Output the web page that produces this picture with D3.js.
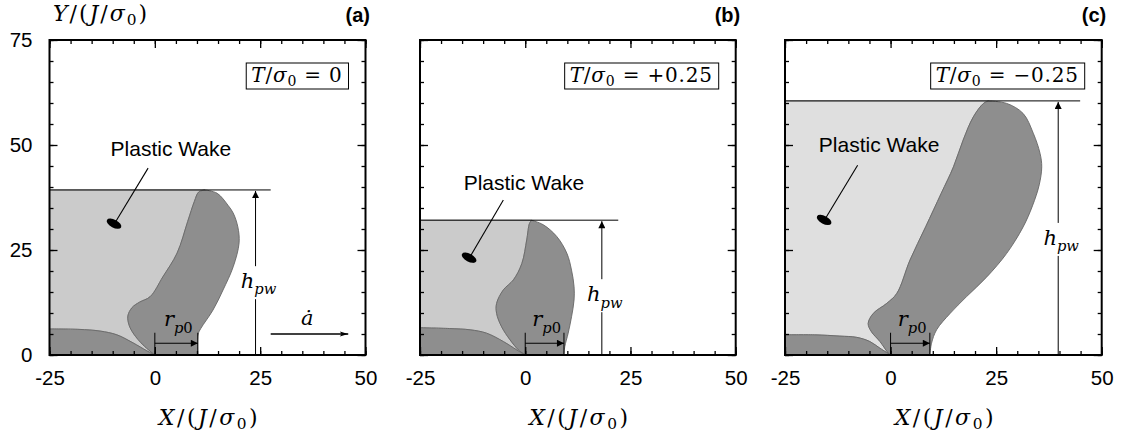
<!DOCTYPE html>
<html><head><meta charset="utf-8">
<script src="https://cdn.jsdelivr.net/npm/d3@7"></script>
<style>body{margin:0;background:#fff}svg{display:block}</style>
</head><body>
<svg id="chart" width="1123" height="435"></svg>
<script>
// ---------------- data ----------------
const panelIds = ["(a)", "(b)", "(c)"];
const stressRatios = ["0", "+0.25", "\u22120.25"];
const xTickValues = [-25, 0, 25, 50];
const yTickValues = [0, 25, 50, 75];
const wakeHeights = [39.3, 32.1, 60.5];
const rp0Values = [10.2, 9.2, 9.3];
const hpwArrowX = [23.9, 18.2, 39.7];
const topLineEndX = [27.5, 22.1, 44.9];

const zoneRightA = [[10.2,0],[10.3,5.0],[10.9,6.3],[13.8,10.7],[16.2,15.5],[18.6,21.0],[20.0,26.7],[19.7,30.5],[18.6,33.8],[17.4,35.6],[14.8,38.5],[11.9,39.3]];
const zoneLeftA  = [[11.9,39.3],[10.4,38.8],[9.4,36.6],[7.8,31.8],[5.3,24.3],[1.9,18.6],[-1.1,13.9],[-3.6,12.6],[-5.4,11.3],[-6.4,9.3],[-6.1,7.1],[-5.0,5.0],[-2.8,2.4],[0,0]];
const stripA     = [[-25,6.2],[-18,6.1],[-13,5.7],[-9,4.8],[-5.2,2.9],[-1.9,1.0],[0,0]];

const zoneRightB = [[9.2,0],[9.4,2.0],[10.2,5.2],[11.0,9.1],[11.6,13.1],[11.6,16.3],[11.0,20.2],[9.9,24.2],[7.5,28.2],[4.3,31.0],[1.5,32.1]];
const zoneLeftB  = [[1.5,32.1],[1.0,31.3],[0.35,27.4],[-0.8,21.8],[-2.8,17.9],[-5.2,15.5],[-6.8,12.3],[-6.8,9.9],[-5.6,6.7],[-3.6,3.6],[-1.6,1.2],[0,0]];
const stripB     = [[-25,6.5],[-18,6.3],[-13.1,6.0],[-9.2,5.2],[-5.2,3.2],[-2.0,1.2],[0,0]];

const zoneRightC = [[9.3,0],[9.7,2.8],[10.9,6.0],[14.1,9.9],[18.0,13.9],[22.8,18.6],[27.5,24.2],[31.4,30.5],[33.6,35.5],[35.2,40.5],[35.8,44.8],[35.4,48.0],[33.8,52.8],[31.4,57.5],[27.5,59.9],[23.2,60.5]];
const zoneLeftC  = [[23.2,60.5],[22.0,59.9],[19.6,56.7],[17.2,51.2],[14.9,44.8],[12.0,38.5],[8.3,30.5],[4.6,22.6],[1.5,14.7],[-0.9,12.3],[-4.1,9.9],[-5.3,7.5],[-4.5,5.5],[-2.5,3.2],[-0.5,0.4],[0,0]];
const stripC     = [[-25,4.8],[-18,4.8],[-12,4.5],[-8,4.2],[-4.9,3.2],[-2.5,1.6],[0,0]];

const zonesRight = [zoneRightA, zoneRightB, zoneRightC];
const zonesLeft = [zoneLeftA, zoneLeftB, zoneLeftC];
const strips = [stripA, stripB, stripC];

// ---------------- layout ----------------
const layout = [
  {left: 49.5, right: 365.5, light: "#cbcbcb",
   wakeText: [3.8, 47.4], wakePtr: [[-1.6, 44.5], [-9.45, 31.5]], hpwLabelY: 17.1, adot: true},
  {left: 420, right: 735.7, light: "#cbcbcb",
   wakeText: [-0.3, 39.3], wakePtr: [[-5.2, 36.9], [-13.1, 23.4]], hpwLabelY: 14.0, adot: false},
  {left: 785, right: 1101.7, light: "#dfdfdf",
   wakeText: [-2.7, 48.4], wakePtr: [[-7.8, 45.2], [-15.5, 32.4]], hpwLabelY: 27.4, adot: false}
];
const plotTop = 40, plotBottom = 355;
const DARK = "#8e8e8e";

const svg = d3.select("#chart");
const defs = svg.append("defs");
defs.append("marker").attr("id", "arr").attr("viewBox", "0 0 10 10")
  .attr("refX", 10).attr("refY", 5).attr("markerWidth", 10).attr("markerHeight", 7)
  .attr("markerUnits", "userSpaceOnUse").attr("orient", "auto")
  .append("path").attr("d", "M0,0 L10,5 L0,10 z").attr("fill", "#000");
defs.append("marker").attr("id", "arr2").attr("viewBox", "0 0 14 10")
  .attr("refX", 14).attr("refY", 5).attr("markerWidth", 14).attr("markerHeight", 6)
  .attr("markerUnits", "userSpaceOnUse").attr("orient", "auto")
  .append("path").attr("d", "M0,1 L14,5 L0,9 L3,5 z").attr("fill", "#000");

const SERIF = "'DejaVu Serif', 'Liberation Serif', serif";
const SANS = "'Liberation Sans', Arial, Helvetica, sans-serif";

function mathText(g, x, y, parts, size, anchor, subShift, spacing) {
  const sh = subShift === undefined ? 0.3 : subShift;
  const t = g.append("text").attr("x", x).attr("y", y)
    .attr("font-family", SERIF).attr("font-size", size)
    .attr("letter-spacing", spacing || 0)
    .attr("text-anchor", anchor || "middle").attr("fill", "#000");
  let shifted = 0;
  parts.forEach(([s, st]) => {
    const ts = t.append("tspan").text(s);
    const isSub = st.startsWith("sub");
    const want = isSub ? size * sh : 0;
    ts.attr("dy", want - shifted); shifted = want;
    if (isSub) ts.attr("font-size", size * 0.7);
    if (st === "i" || st === "subi") ts.attr("font-style", "italic");
  });
  return t;
}

layout.forEach((L, i) => {
  const x = d3.scaleLinear().domain([-25, 50]).range([L.left, L.right]);
  const y = d3.scaleLinear().domain([0, 75]).range([plotBottom, plotTop]);
  const g = svg.append("g");
  const clipId = "clip" + i;
  defs.append("clipPath").attr("id", clipId).append("rect")
    .attr("x", L.left).attr("y", plotTop).attr("width", L.right - L.left).attr("height", plotBottom - plotTop);
  const pg = g.append("g").attr("clip-path", `url(#${clipId})`);

  const curve = d3.line().x(d => x(d[0])).y(d => y(d[1])).curve(d3.curveCatmullRom.alpha(0.5));
  const H = wakeHeights[i];
  const right = zonesRight[i], left = zonesLeft[i], strip = strips[i];

  // light wake region
  const stripRev = strip.slice().reverse();
  const lightPath = `M${x(-25)},${y(H)}L${x(left[0][0])},${y(H)}` +
    curve(left).replace(/^M/, "L") + curve(stripRev).replace(/^M/, "L") +
    `L${x(-25)},${y(0)}Z`;
  pg.append("path").attr("d", lightPath).attr("fill", L.light).attr("stroke", "#8a8a8a").attr("stroke-width", 0.8);

  // dark active zone
  const darkPath = `M${x(0)},${y(0)}L${x(right[0][0])},${y(right[0][1])}` +
    curve(right).replace(/^M/, "L") + curve(left).replace(/^M/, "L") + "Z";
  pg.append("path").attr("d", darkPath).attr("fill", DARK).attr("stroke", "#666").attr("stroke-width", 0.9);

  // lower strip
  const stripPath = `M${x(-25)},${y(0)}` + curve(strip).replace(/^M/, "L") + "Z";
  pg.append("path").attr("d", stripPath).attr("fill", DARK).attr("stroke", "#666").attr("stroke-width", 0.9);

  // top horizontal line
  g.append("line").attr("x1", x(-25)).attr("x2", x(topLineEndX[i])).attr("y1", y(H)).attr("y2", y(H))
    .attr("stroke", "#000").attr("stroke-width", 1);

  // h_pw arrow with gap for label
  const hx = x(hpwArrowX[i]);
  const ly = y(L.hpwLabelY);
  g.append("line").attr("x1", hx).attr("x2", hx).attr("y1", y(0)).attr("y2", ly + 16)
    .attr("stroke", "#000").attr("stroke-width", 1);
  g.append("line").attr("x1", hx).attr("x2", hx).attr("y1", ly - 17).attr("y2", y(H) + 1)
    .attr("stroke", "#000").attr("stroke-width", 1).attr("marker-end", "url(#arr)");
  mathText(g, hx + 3, ly + 5, [["h", "i"], ["pw", "subi"]], 21, "middle");

  // r_p0 arrow
  const rp = rp0Values[i];
  const ry = y(2.8);
  g.append("line").attr("x1", x(0)).attr("x2", x(0)).attr("y1", y(0)).attr("y2", y(5.3)).attr("stroke", "#000").attr("stroke-width", 1);
  g.append("line").attr("x1", x(rp)).attr("x2", x(rp)).attr("y1", y(0)).attr("y2", y(5.3)).attr("stroke", "#000").attr("stroke-width", 1);
  g.append("line").attr("x1", x(0)).attr("x2", x(rp)).attr("y1", ry).attr("y2", ry)
    .attr("stroke", "#000").attr("stroke-width", 1.2).attr("marker-end", "url(#arr)");
  mathText(g, x(rp / 2) + 2, y(6.8), [["r", "i"], ["p", "subi"], ["0", "sub"]], 21, "middle");

  // a-dot arrow
  if (L.adot) {
    g.append("line").attr("x1", x(27.5)).attr("x2", x(45.9)).attr("y1", y(5.0)).attr("y2", y(5.0))
      .attr("stroke", "#000").attr("stroke-width", 1.3).attr("marker-end", "url(#arr2)");
    mathText(g, x(36.2), y(7.2), [["\u0227", "i"]], 21, "middle");
  }

  // Plastic wake label & pointer
  g.append("text").attr("x", x(L.wakeText[0])).attr("y", y(L.wakeText[1]))
    .attr("font-family", SANS).attr("font-size", 21).attr("text-anchor", "middle").text("Plastic Wake");
  g.append("line").attr("x1", x(L.wakePtr[0][0])).attr("y1", y(L.wakePtr[0][1]))
    .attr("x2", x(L.wakePtr[1][0])).attr("y2", y(L.wakePtr[1][1])).attr("stroke", "#000").attr("stroke-width", 1.1);
  const ex = x(L.wakePtr[1][0]), ey = y(L.wakePtr[1][1]);
  g.append("ellipse").attr("cx", ex - 1).attr("cy", ey + 1).attr("rx", 8).attr("ry", 4)
    .attr("transform", `rotate(28,${ex - 1},${ey + 1})`).attr("fill", "#000");

  // axes ticks (inward, all four sides)
  const minor = d3.range(-25, 51, 5);
  const minorY = d3.range(0, 76, 5);
  const axStyle = s => { s.select(".domain").remove(); s.selectAll(".tick line").attr("stroke-width", 1.3); };
  g.append("g").attr("transform", `translate(0,${plotBottom})`)
    .call(d3.axisBottom(x).tickValues(minor).tickSize(-4).tickFormat("")).call(axStyle);
  g.append("g").attr("transform", `translate(0,${plotTop})`)
    .call(d3.axisTop(x).tickValues(minor).tickSize(-4).tickFormat("")).call(axStyle);
  g.append("g").attr("transform", `translate(${L.left},0)`)
    .call(d3.axisLeft(y).tickValues(minorY).tickSize(-4).tickFormat("")).call(axStyle);
  g.append("g").attr("transform", `translate(${L.right},0)`)
    .call(d3.axisRight(y).tickValues(minorY).tickSize(-4).tickFormat("")).call(axStyle);

  const plainFmt = d => String(d);
  const xb = g.append("g").attr("transform", `translate(0,${plotBottom})`)
    .call(d3.axisBottom(x).tickValues(xTickValues).tickSize(-8).tickPadding(15).tickFormat(plainFmt))
    .call(axStyle);
  xb.selectAll("text").attr("font-family", SANS).attr("font-size", 20.5).attr("fill", "#000");
  g.append("g").attr("transform", `translate(0,${plotTop})`)
    .call(d3.axisTop(x).tickValues(xTickValues).tickSize(-8).tickFormat("")).call(axStyle);
  const yl = g.append("g").attr("transform", `translate(${L.left},0)`)
    .call(d3.axisLeft(y).tickValues(yTickValues).tickSize(-8).tickPadding(17).tickFormat(i === 0 ? plainFmt : ""))
    .call(axStyle);
  yl.selectAll("text").attr("font-family", SANS).attr("font-size", 20.5).attr("fill", "#000");
  g.append("g").attr("transform", `translate(${L.right},0)`)
    .call(d3.axisRight(y).tickValues(yTickValues).tickSize(-8).tickFormat("")).call(axStyle);

  // frame
  g.append("rect").attr("x", L.left).attr("y", plotTop).attr("width", L.right - L.left).attr("height", plotBottom - plotTop)
    .attr("fill", "none").attr("stroke", "#000").attr("stroke-width", 2);

  // legend box
  const lt = mathText(g, 0, 82, [["T", "i"], ["/", "r"], ["\u03c3", "i"], ["0", "sub"], [" = " + stressRatios[i], "r"]], 20, "start", 0.22, 0.8);
  const bb = lt.node().getBBox();
  const boxRight = L.right - 17;
  const bx = boxRight - bb.width - 11;
  lt.attr("x", bx + 5);
  g.insert("rect", "text").attr("x", bx).attr("y", 63).attr("width", bb.width + 11).attr("height", 26)
    .attr("fill", "#fff").attr("stroke", "#000").attr("stroke-width", 1);
  lt.raise();

  // x title
  mathText(g, (L.left + L.right) / 2 + 2, 425, [["X", "i"], ["/(", "r"], ["J", "i"], ["/", "r"], ["\u03c3", "i"], ["0", "sub"], [")", "r"]], 22, "middle", 0.2, 2.5);

  // panel id
  g.append("text").attr("x", L.right + 4.5).attr("y", 22).attr("text-anchor", "end")
    .attr("font-family", SANS).attr("font-weight", "bold").attr("font-size", 20).text(panelIds[i]);

  if (i === 0) {
    mathText(g, 53, 21, [["Y", "i"], ["/(", "r"], ["J", "i"], ["/", "r"], ["\u03c3", "i"], ["0", "sub"], [")", "r"]], 22, "start", 0.2, 2);
  }
});
</script>
</body></html>
